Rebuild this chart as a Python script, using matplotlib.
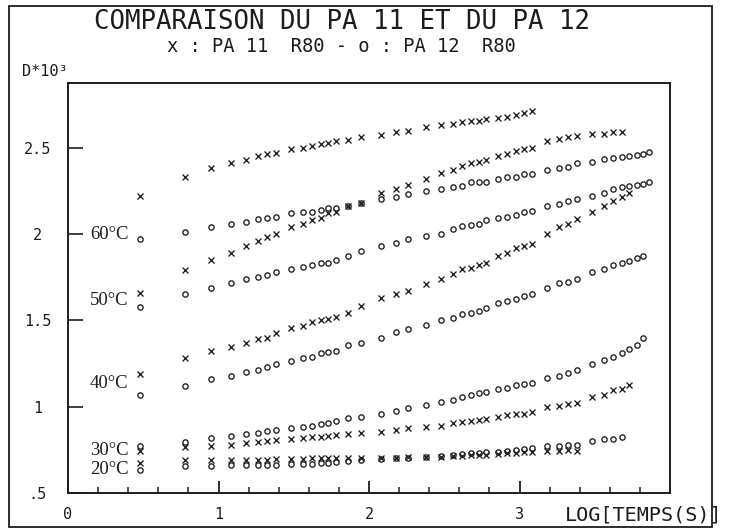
import numpy as np
import matplotlib.pyplot as plt
from matplotlib.patches import Rectangle

# log10 of the measuring times (s), shared by all curves
log_t = [0.48, 0.78, 0.95, 1.08, 1.18, 1.26, 1.32, 1.38, 1.48, 1.56, 1.62, 1.68, 1.73,
         1.78, 1.86, 1.95, 2.08, 2.18, 2.26, 2.38, 2.48, 2.56, 2.62, 2.68, 2.73, 2.78,
         2.86, 2.92, 2.98, 3.03, 3.08, 3.18, 3.26, 3.32, 3.38, 3.48, 3.56, 3.62, 3.68,
         3.73, 3.78, 3.82, 3.86]

# PA 11 R80 (x)
pa11_60 = [2.22, 2.33, 2.38, 2.41, 2.43, 2.45, 2.465, 2.47, 2.49, 2.50, 2.51, 2.52, 2.53,
           2.54, 2.545, 2.56, 2.575, 2.59, 2.595, 2.62, 2.63, 2.64, 2.65, 2.655, 2.655,
           2.665, 2.67, 2.68, 2.69, 2.70, 2.71]
pa11_50 = [1.66, 1.79, 1.85, 1.89, 1.93, 1.96, 1.985, 2.00, 2.04, 2.06, 2.08, 2.095, 2.12,
           2.125, 2.165, 2.18, 2.235, 2.26, 2.285, 2.32, 2.355, 2.37, 2.395, 2.41, 2.42,
           2.43, 2.455, 2.465, 2.48, 2.49, 2.50, 2.54, 2.55, 2.56, 2.57, 2.58, 2.58, 2.59,
           2.59]
pa11_40 = [1.19, 1.28, 1.32, 1.345, 1.37, 1.39, 1.40, 1.425, 1.455, 1.465, 1.49, 1.505, 1.51,
           1.52, 1.545, 1.585, 1.63, 1.655, 1.67, 1.71, 1.74, 1.77, 1.795, 1.805, 1.82,
           1.835, 1.87, 1.89, 1.92, 1.93, 1.94, 2.00, 2.04, 2.06, 2.085, 2.125, 2.16, 2.19,
           2.215, 2.24]
pa11_30 = [0.745, 0.765, 0.77, 0.78, 0.79, 0.795, 0.80, 0.805, 0.81, 0.82, 0.825, 0.825, 0.83,
           0.835, 0.84, 0.845, 0.855, 0.865, 0.875, 0.885, 0.89, 0.905, 0.91, 0.915, 0.92,
           0.93, 0.94, 0.95, 0.955, 0.96, 0.97, 1.00, 1.005, 1.015, 1.02, 1.055, 1.065, 1.095,
           1.105, 1.125]
pa11_20 = [0.675, 0.69, 0.69, 0.69, 0.69, 0.69, 0.69, 0.695, 0.695, 0.695, 0.70, 0.70, 0.70,
           0.70, 0.70, 0.70, 0.705, 0.705, 0.71, 0.71, 0.71, 0.715, 0.715, 0.72, 0.72, 0.72,
           0.725, 0.73, 0.73, 0.735, 0.735, 0.745, 0.745, 0.75, 0.745]

# PA 12 R80 (o)
pa12_60 = [1.97, 2.01, 2.04, 2.06, 2.07, 2.085, 2.095, 2.10, 2.12, 2.125, 2.13, 2.14, 2.15,
           2.15, 2.165, 2.18, 2.205, 2.215, 2.23, 2.25, 2.26, 2.27, 2.28, 2.30, 2.30, 2.30,
           2.32, 2.33, 2.33, 2.345, 2.35, 2.37, 2.38, 2.39, 2.41, 2.42, 2.435, 2.44, 2.445,
           2.455, 2.46, 2.465, 2.475]
pa12_50 = [1.575, 1.65, 1.685, 1.715, 1.74, 1.75, 1.76, 1.78, 1.80, 1.81, 1.82, 1.83, 1.835,
           1.85, 1.875, 1.90, 1.93, 1.95, 1.97, 1.99, 2.00, 2.03, 2.045, 2.055, 2.06, 2.08,
           2.095, 2.10, 2.11, 2.125, 2.135, 2.165, 2.175, 2.19, 2.205, 2.22, 2.24, 2.26, 2.27,
           2.28, 2.285, 2.29, 2.30]
pa12_40 = [1.065, 1.12, 1.16, 1.18, 1.20, 1.215, 1.23, 1.245, 1.265, 1.28, 1.29, 1.31, 1.315,
           1.325, 1.355, 1.37, 1.40, 1.43, 1.45, 1.475, 1.50, 1.515, 1.535, 1.545, 1.555,
           1.57, 1.60, 1.61, 1.625, 1.64, 1.655, 1.69, 1.715, 1.72, 1.74, 1.78, 1.80, 1.82,
           1.835, 1.845, 1.86, 1.875]
pa12_30 = [0.775, 0.795, 0.82, 0.83, 0.84, 0.845, 0.86, 0.865, 0.875, 0.885, 0.89, 0.90, 0.905,
           0.915, 0.935, 0.94, 0.96, 0.975, 0.99, 1.01, 1.025, 1.04, 1.055, 1.065, 1.08,
           1.085, 1.10, 1.11, 1.125, 1.13, 1.14, 1.165, 1.18, 1.195, 1.21, 1.245, 1.27, 1.29,
           1.31, 1.335, 1.36, 1.40]
pa12_20 = [0.635, 0.655, 0.655, 0.66, 0.66, 0.665, 0.665, 0.665, 0.67, 0.67, 0.67, 0.675, 0.675,
           0.68, 0.685, 0.69, 0.695, 0.70, 0.705, 0.71, 0.715, 0.72, 0.725, 0.73, 0.73, 0.735,
           0.74, 0.745, 0.75, 0.755, 0.76, 0.77, 0.775, 0.78, 0.78, 0.80, 0.81, 0.815, 0.825]

temp_labels = ['60°C', '50°C', '40°C', '30°C', '20°C']
temp_label_y = [2.0, 1.615, 1.135, 0.749, 0.639]

y_ticks = [0.5, 1.0, 1.5, 2.0, 2.5]
y_ticklabels = ['.5', '1', '1.5', '2', '2.5']
x_ticks = [0, 1, 2, 3]
x_ticklabels = ['0', '1', '2', '3']

ink = '#1c1c1c'
mono = 'DejaVu Sans Mono'

fig = plt.figure(figsize=(7.34, 5.31), dpi=100)
ax = fig.add_axes([68 / 734, 1 - 493 / 531, 602 / 734, 410 / 531])

for y in [pa11_60, pa11_50, pa11_40, pa11_30, pa11_20]:
    ax.plot(log_t[:len(y)], y, linestyle='none', marker='x', ms=4.2, mew=0.95, color=ink)
for y in [pa12_60, pa12_50, pa12_40, pa12_30, pa12_20]:
    ax.plot(log_t[:len(y)], y, linestyle='none', marker='o', ms=3.8, mew=0.95,
            mfc='none', mec=ink)

for lab, ty in zip(temp_labels, temp_label_y):
    ax.text(0.145, ty, lab, family='Liberation Serif', fontsize=13.5, color=ink,
            ha='left', va='center')

ax.set_xlim(0, 4)
ax.set_ylim(0.5, 2.875)
ax.set_xticks(x_ticks)
ax.set_xticklabels(x_ticklabels, family=mono, fontsize=11, color=ink)
ax.set_xticks(np.arange(0.2, 4, 0.2), minor=True)
ax.set_yticks(y_ticks)
ax.set_yticklabels(y_ticklabels, family=mono, fontsize=11, color=ink, ha='center')
ax.tick_params(axis='x', which='major', direction='in', length=9, width=1.3, pad=10, color=ink)
ax.tick_params(axis='x', which='minor', direction='in', length=4, width=1.1, color=ink)
ax.tick_params(axis='y', which='major', direction='in', length=11, width=1.2, pad=22, color=ink)
for sp in ax.spines.values():
    sp.set_linewidth(1.4)
    sp.set_color(ink)

# plotter texts
fig.text(342 / 734, 1 - 22 / 531, 'COMPARAISON DU PA 11 ET DU PA 12', family=mono,
         fontsize=18.5, color=ink, ha='center', va='center')
fig.text(341 / 734, 1 - 46 / 531, 'x : PA 11  R80 - o : PA 12  R80', family=mono,
         fontsize=13.5, color=ink, ha='center', va='center')
fig.text(22 / 734, 1 - 72 / 531, 'D*10³', family=mono, fontsize=11, color=ink,
         ha='left', va='center')
fig.text(565 / 734, 1 - 515 / 531, 'LOG[TEMPS(S)]', family=mono, fontsize=14.5, color=ink,
         ha='left', va='center')

# outer frame of the sheet
fig.patches.append(Rectangle((9 / 734, 1 - 527 / 531), 703 / 734, 521 / 531,
                             transform=fig.transFigure, fill=False, lw=1.3, ec=ink))

plt.savefig('out.png')
